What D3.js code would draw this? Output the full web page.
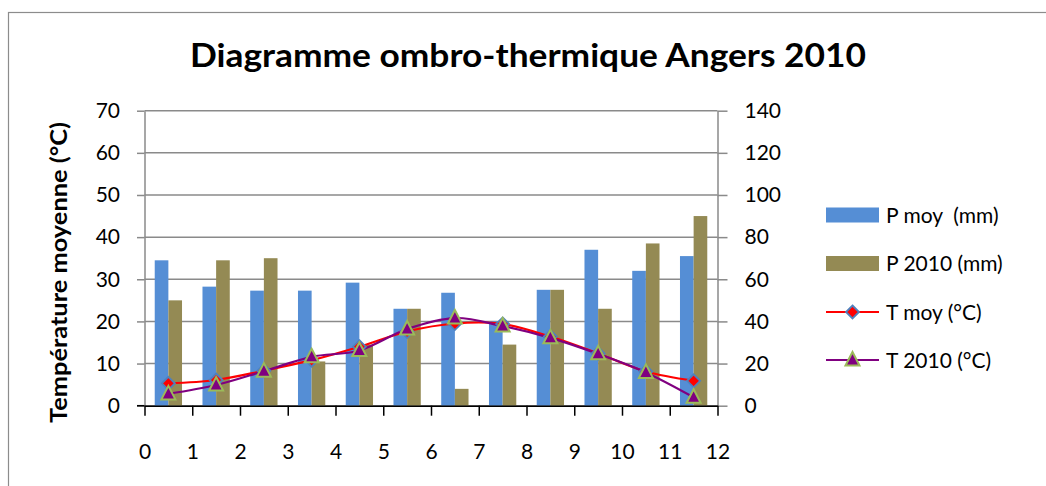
<!DOCTYPE html>
<html><head><meta charset="utf-8">
<script src="https://cdn.jsdelivr.net/npm/d3@7"></script>
<style>
html,body{margin:0;padding:0;background:#fff;}
svg{display:block;font-family:Lato,"Open Sans",sans-serif;}
</style></head>
<body>
<svg id="chart" width="1046" height="486"></svg>
<script>
// ---- data ----
const months = [1,2,3,4,5,6,7,8,9,10,11,12];
const xTicks = [0,1,2,3,4,5,6,7,8,9,10,11,12];
const leftTicks = [0,10,20,30,40,50,60,70];
const rightTicks = [0,20,40,60,80,100,120,140];
const pMoy  = [69, 56.5, 54.6, 54.6, 58.4, 46, 53.6, 40, 55, 74, 64, 71];
const p2010 = [50, 69, 70, 21, 29, 46, 8, 29, 55, 46, 77, 90];
const tMoy  = [5.3, 6.1, 8.3, 10.8, 14.0, 17.6, 19.5, 19.4, 16.4, 12.4, 8.1, 5.9];
const t2010 = [2.8, 4.9, 8.2, 11.6, 13.1, 18.2, 20.8, 18.9, 16.1, 12.3, 7.9, 2.0];
const titleText = "Diagramme ombro-thermique Angers 2010";
const yTitle = "Température moyenne (°C)";
const legendLabels = ["P moy  (mm)", "P 2010 (mm)", "T moy (°C)", "T 2010 (°C)"];

// ---- layout ----
const svg = d3.select("#chart");
const L = 144.5, R = 717.5, T = 110.7, B = 405.7;
const gridCol = "#8a8a8a";
const blue = "#558ED5", olive = "#948A54", red = "#FF0000", purple = "#800080";
const tickFont = 21;

svg.append("rect").attr("x",8.5).attr("y",12.5).attr("width",1100).attr("height",600)
  .attr("fill","none").attr("stroke","#8c8c8c").attr("stroke-width",1.2);

const x = d3.scaleLinear().domain([0,12]).range([L,R]);
const yL = d3.scaleLinear().domain([0,70]).range([B,T]);
const yR = d3.scaleLinear().domain([0,140]).range([B,T]);
const band = d3.scaleBand().domain(months).range([L,R]).paddingInner(1.5/3.5).paddingOuter(0.75/3.5);
const bw = band.bandwidth()/2;

// gridlines
svg.append("g").selectAll("line").data(leftTicks).join("line")
  .attr("x1",L).attr("x2",R).attr("y1",d=>yL(d)).attr("y2",d=>yL(d))
  .attr("stroke",gridCol).attr("stroke-width",1.5);

// left axis
const gl = svg.append("g").attr("transform",`translate(${L},0)`)
  .call(d3.axisLeft(yL).tickValues(leftTicks).tickSize(7.5).tickPadding(17).tickSizeOuter(0));
gl.select(".domain").attr("stroke",gridCol).attr("stroke-width",1.5);
gl.selectAll(".tick line").attr("stroke",gridCol).attr("stroke-width",1.5);
gl.selectAll(".tick text").attr("font-size",tickFont).attr("fill","#000").attr("font-family","Lato");

// right axis
const gr = svg.append("g").attr("transform",`translate(${R},0)`)
  .call(d3.axisRight(yR).tickValues(rightTicks).tickSize(10).tickPadding(17).tickSizeOuter(0));
gr.select(".domain").attr("stroke",gridCol).attr("stroke-width",1.5);
gr.selectAll(".tick line").attr("stroke",gridCol).attr("stroke-width",1.5);
gr.selectAll(".tick text").attr("font-size",tickFont).attr("fill","#000").attr("font-family","Lato");

// bars
svg.append("g").selectAll("rect").data(pMoy).join("rect")
  .attr("x",(d,i)=>band(months[i])).attr("width",bw)
  .attr("y",d=>yR(d)).attr("height",d=>B-yR(d)).attr("fill",blue);
svg.append("g").selectAll("rect").data(p2010).join("rect")
  .attr("x",(d,i)=>band(months[i])+bw).attr("width",bw)
  .attr("y",d=>yR(d)).attr("height",d=>B-yR(d)).attr("fill",olive);

// bottom axis
const gb = svg.append("g").attr("transform",`translate(0,${B})`)
  .call(d3.axisBottom(x).tickValues(xTicks).tickSize(10).tickPadding(28).tickSizeOuter(0));
gb.select(".domain").attr("stroke","#000").attr("stroke-width",1.5);
gb.selectAll(".tick line").attr("stroke","#000").attr("stroke-width",1.5);
gb.selectAll(".tick text").attr("font-size",tickFont).attr("fill","#000").attr("font-family","Lato");
svg.append("line").attr("x1",L-7.5).attr("x2",L).attr("y1",B).attr("y2",B).attr("stroke","#000").attr("stroke-width",1.5);

// lines
const line = d3.line().x((d,i)=>x(i+0.5)).y(d=>yL(d)).curve(d3.curveCardinal.tension(0));
svg.append("path").datum(tMoy).attr("d",line).attr("fill","none").attr("stroke",red).attr("stroke-width",2.2);
svg.append("path").datum(t2010).attr("d",line).attr("fill","none").attr("stroke",purple).attr("stroke-width",2.2);

const diamond = "M0,-6.5L6.5,0L0,6.5L-6.5,0Z";
const tri = "M0,-7.5L7,6L-7,6Z";
svg.append("g").selectAll("path").data(tMoy).join("path")
  .attr("d",diamond).attr("transform",(d,i)=>`translate(${x(i+0.5)},${yL(d)})`)
  .attr("fill",red).attr("stroke","#4F81BD").attr("stroke-width",1.8);
svg.append("g").selectAll("path").data(t2010).join("path")
  .attr("d",tri).attr("transform",(d,i)=>`translate(${x(i+0.5)},${yL(d)-0.5})`)
  .attr("fill",purple).attr("stroke","#9BBB59").attr("stroke-width",2);

// title
svg.append("text").attr("x",190).attr("y",67).attr("font-size",32).attr("font-weight","bold")
  .attr("textLength",676).attr("lengthAdjust","spacingAndGlyphs").text(titleText);

// y title
svg.append("text").attr("transform","translate(67,423) rotate(-90)")
  .attr("font-size",22).attr("font-weight","bold")
  .attr("textLength",301).attr("lengthAdjust","spacingAndGlyphs").text(yTitle);

// legend
const lx = 826, lw = 53, rows = [215, 263.5, 312, 360];
const lg = svg.append("g");
lg.append("rect").attr("x",lx).attr("y",rows[0]-7.5).attr("width",lw).attr("height",15).attr("fill",blue);
lg.append("rect").attr("x",lx).attr("y",rows[1]-7.5).attr("width",lw).attr("height",15).attr("fill",olive);
lg.append("line").attr("x1",lx).attr("x2",lx+lw).attr("y1",rows[2]).attr("y2",rows[2]).attr("stroke",red).attr("stroke-width",2.2);
lg.append("path").attr("d",diamond).attr("transform",`translate(${lx+lw/2},${rows[2]})`)
  .attr("fill",red).attr("stroke","#4F81BD").attr("stroke-width",1.8);
lg.append("line").attr("x1",lx).attr("x2",lx+lw).attr("y1",rows[3]).attr("y2",rows[3]).attr("stroke",purple).attr("stroke-width",2.2);
lg.append("path").attr("d",tri).attr("transform",`translate(${lx+lw/2},${rows[3]-0.5})`)
  .attr("fill",purple).attr("stroke","#9BBB59").attr("stroke-width",2);
lg.selectAll("text").data(legendLabels).join("text")
  .attr("x",886).attr("y",(d,i)=>rows[i]+7.5).attr("font-size",21)
  .style("white-space","pre").attr("xml:space","preserve").text(d=>d);
</script>
</body></html>
